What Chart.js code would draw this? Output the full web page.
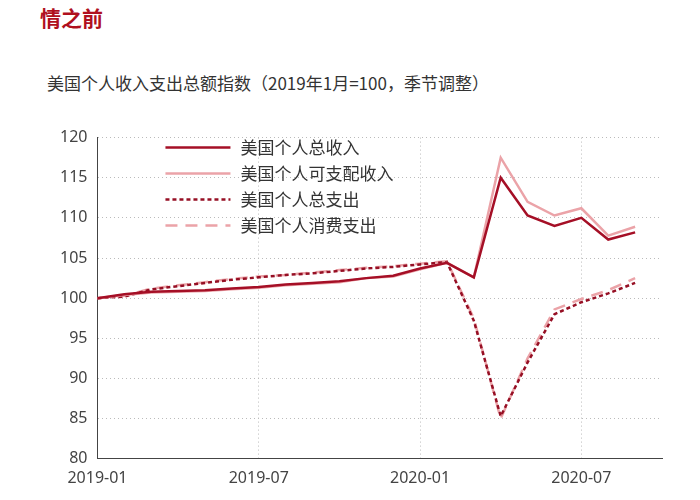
<!DOCTYPE html>
<html><head><meta charset="utf-8">
<script src="https://cdn.jsdelivr.net/npm/chart.js@4"></script>
<style>
body{margin:0;background:#fff;font-family:"Noto Sans CJK SC",sans-serif}
#t{position:absolute;left:40px;top:2px;color:#b0101e;font-size:21px;font-weight:bold}
#s{position:absolute;left:47px;top:70px;color:#333;font-size:17px}
#w{position:absolute;left:40px;top:118px;width:630px;height:380px}
</style></head><body>
<div id="t">情之前</div>
<div id="s">美国个人收入支出总额指数（2019年1月=100，季节调整）</div>
<div id="w"><canvas id="c"></canvas></div>
<script>
const months = ['2019-01','2019-02','2019-03','2019-04','2019-05','2019-06','2019-07','2019-08','2019-09','2019-10','2019-11','2019-12',
  '2020-01','2020-02','2020-03','2020-04','2020-05','2020-06','2020-07','2020-08','2020-09','2020-10'];
const tickLabels = ['2019-01','2019-07','2020-01','2020-07'];
const totalIncome = [100,100.5,100.8,100.9,101.0,101.2,101.4,101.7,101.9,102.1,102.5,102.8,103.7,104.4,102.6,115.0,110.3,109.0,110.0,107.3,108.2];
const disposableIncome = [100,100.4,100.7,100.8,100.9,101.1,101.3,101.6,101.8,102.0,102.5,102.7,103.6,104.4,102.6,117.5,112.0,110.3,111.2,107.8,108.9];
const totalSpending = [100,100.2,101.1,101.5,101.9,102.3,102.6,102.9,103.1,103.4,103.7,103.9,104.2,104.5,97.2,85.3,92.0,98.0,99.5,100.6,101.9];
const consumption = [100,100.3,101.2,101.6,102.0,102.4,102.7,102.9,103.2,103.5,103.8,104.0,104.3,104.6,97.5,85.0,92.5,98.6,99.9,101.0,102.5];

const ds = (label, data, color, dash, w) => ({label, data, borderColor:color, borderDash:dash, borderWidth:w, pointRadius:0, tension:0, fill:false});

// legend drawn inside the plot, top-left
const innerLegend = {
  id:'innerLegend',
  afterDraw(chart){
    const ctx = chart.ctx, a = chart.chartArea;
    ctx.save();
    ctx.font = '17px "Noto Sans CJK SC"';
    ctx.textBaseline = 'middle';
    chart.data.datasets.forEach((d,i)=>{
      const y = a.top + 10 + i*26, x = a.left + 68;
      ctx.strokeStyle = d.borderColor; ctx.lineWidth = d.borderWidth;
      ctx.setLineDash(d.borderDash);
      ctx.beginPath(); ctx.moveTo(x,y); ctx.lineTo(x+65,y); ctx.stroke();
      ctx.fillStyle = '#333'; ctx.fillText(d.label, x+75, y);
    });
    ctx.restore();
  }
};

new Chart(document.getElementById('c'), {
  type:'line',
  data:{labels:months, datasets:[
    ds('美国个人总收入', totalIncome, '#a50f26', [], 2.5),
    ds('美国个人可支配收入', disposableIncome, '#eba3a8', [], 2.5),
    ds('美国个人总支出', totalSpending, '#960f24', [4,3], 2.5),
    ds('美国个人消费支出', consumption, '#eba3a8', [12,8], 2.5)
  ]},
  options:{
    responsive:true, maintainAspectRatio:false, animation:false,
    layout:{padding:{right:8, left:10}},
    plugins:{legend:{display:false}, tooltip:{enabled:false}},
    scales:{
      x:{offset:false,
        grid:{color:'#bbb', drawTicks:false},
        border:{color:'#444', dash:[1,3]},
        ticks:{autoSkip:false, maxRotation:0, color:'#444', font:{size:16, family:'Noto Sans'}, padding:10,
          callback:(v,i)=> tickLabels.includes(months[i]) ? months[i] : null}},
      y:{min:80, max:120,
        grid:{color:'#bbb', drawTicks:false},
        border:{color:'#444', dash:[1,3]},
        ticks:{stepSize:5, color:'#444', font:{size:16, family:'Noto Sans'}, padding:10}}
    }
  },
  plugins:[innerLegend]
});
</script></body></html>
